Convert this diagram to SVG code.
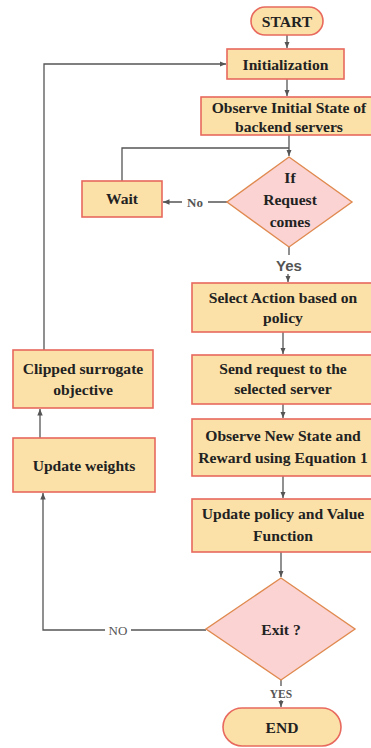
<svg xmlns="http://www.w3.org/2000/svg" width="371" height="748" viewBox="0 0 371 748">
<style>
.box{fill:#FBE1A8;stroke:#E8695E;stroke-width:1.6}
.dia{fill:#FAD3D2;stroke:#E08A50;stroke-width:1.4}
.t{font-family:"Liberation Serif",serif;font-weight:bold;font-size:15.6px;fill:#222;text-anchor:middle}
.c{fill:none;stroke:#555;stroke-width:1.3}
.lbl{font-family:"Liberation Serif",serif;font-size:13px;fill:#555;text-anchor:middle}
.lbs{font-family:"Liberation Sans",sans-serif;font-weight:bold;font-size:15px;fill:#555;text-anchor:middle}
</style>
<defs>
<marker id="ar" viewBox="0 0 6 6" refX="6" refY="3" markerWidth="5" markerHeight="5" orient="auto"><path d="M0,0.5 L6,3 L0,5.5 z" fill="#555"/></marker>
</defs>
<rect width="371" height="748" fill="#fff"/>
<g id="connectors">
<path class="c" d="M287,35 V48" marker-end="url(#ar)"/>
<path class="c" d="M287,79 V96" marker-end="url(#ar)"/>
<path class="c" d="M289,135 V156" marker-end="url(#ar)"/>
<path class="c" d="M122,181 V148 H289"/>
<path class="c" d="M227,202 H208 M182,202 H163" marker-end="url(#ar)"/>
<path class="c" d="M289,247 V255 M288,274 V282" marker-end="url(#ar)"/>
<path class="c" d="M283,332 V354" marker-end="url(#ar)"/>
<path class="c" d="M283,404 V418" marker-end="url(#ar)"/>
<path class="c" d="M283,476 V498" marker-end="url(#ar)"/>
<path class="c" d="M281,552 V577" marker-end="url(#ar)"/>
<path class="c" d="M281,680 V686 M281,700 V707" marker-end="url(#ar)"/>
<path class="c" d="M206,630 H131 M105,630 H43 V493" marker-end="url(#ar)"/>
<path class="c" d="M40,438 V409" marker-end="url(#ar)"/>
<path class="c" d="M44,350 V64 H226" marker-end="url(#ar)"/>
<text class="lbl" x="195" y="206.5" style="font-weight:bold">No</text>
<text class="lbs" x="289" y="271">Yes</text>
<text class="lbl" x="118" y="634.5">NO</text>
<text class="lbl" x="281" y="697.5" style="font-size:11.5px;font-weight:bold">YES</text>
</g>
<g id="start"><rect class="box" x="251" y="7" width="72" height="28" rx="14"/><text class="t" x="287" y="26.5">START</text></g>
<g id="init"><rect class="box" x="227" y="49" width="117" height="30"/><text class="t" x="285.5" y="69.5">Initialization</text></g>
<g id="observe-initial"><rect class="box" x="201" y="97" width="172" height="38"/><text class="t" x="289" y="112.5">Observe Initial State of</text><text class="t" x="289" y="131.5">backend servers</text></g>
<g id="if-request"><polygon class="dia" points="289,157 352,202 289,247 227,202"/><text class="t" x="290" y="183">If</text><text class="t" x="290" y="205">Request</text><text class="t" x="290" y="227">comes</text></g>
<g id="wait"><rect class="box" x="82" y="181" width="80" height="36"/><text class="t" x="122" y="203.5">Wait</text></g>
<g id="select"><rect class="box" x="192" y="283" width="181" height="49"/><text class="t" x="283" y="302.5">Select Action based on</text><text class="t" x="283" y="322.5">policy</text></g>
<g id="send"><rect class="box" x="192" y="355" width="181" height="49"/><text class="t" x="283" y="373.5">Send request to the</text><text class="t" x="283" y="393.5">selected server</text></g>
<g id="observe-new"><rect class="box" x="192" y="419" width="181" height="57"/><text class="t" x="283" y="440.5">Observe New State and</text><text class="t" x="283" y="462.5">Reward using Equation 1</text></g>
<g id="update-policy"><rect class="box" x="192" y="499" width="181" height="53"/><text class="t" x="283" y="518.5">Update policy and Value</text><text class="t" x="283" y="540.5">Function</text></g>
<g id="exit"><polygon class="dia" points="281,578 355,629 281,680 206,629"/><text class="t" x="281" y="634.5">Exit ?</text></g>
<g id="end"><rect class="box" x="223" y="708" width="118" height="38" rx="19"/><text class="t" x="282" y="732.5">END</text></g>
<g id="clipped"><rect class="box" x="13" y="350" width="140" height="58"/><text class="t" x="83" y="373.5">Clipped surrogate</text><text class="t" x="83" y="394.5">objective</text></g>
<g id="update-weights"><rect class="box" x="13" y="438" width="142" height="54"/><text class="t" x="84" y="470.5">Update weights</text></g>
</svg>
